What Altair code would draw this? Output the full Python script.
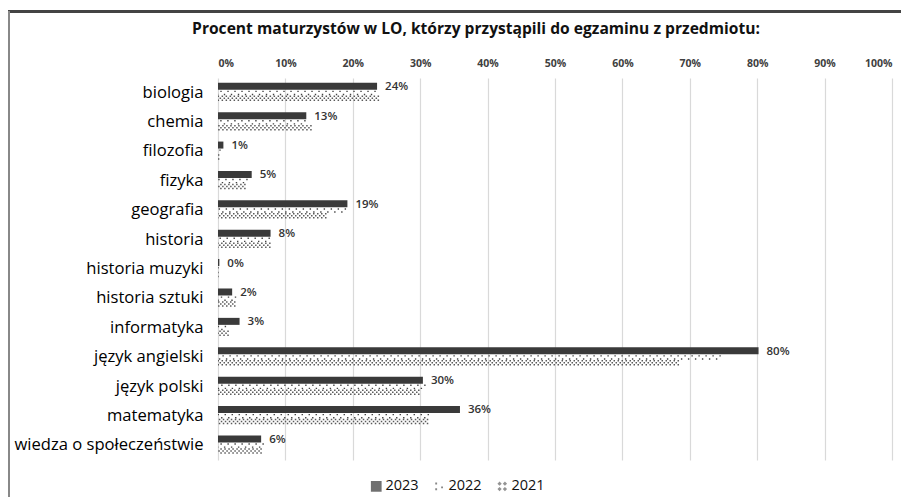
import altair as alt
import pandas as pd

categories = ["biologia", "chemia", "filozofia", "fizyka", "geografia", "historia",
              "historia muzyki", "historia sztuki", "informatyka", "język angielski",
              "język polski", "matematyka", "wiedza o społeczeństwie"]
years = ["2023", "2022", "2021"]
v2023 = [23.6, 13.1, 0.8, 5.0, 19.2, 7.8, 0.2, 2.1, 3.2, 80.2, 30.4, 35.9, 6.4]
v2022 = [23.4, 13.0, 0.4, 4.4, 19.0, 7.7, 0.1, 2.7, 1.2, 74.6, 30.8, 31.3, 6.8]
v2021 = [23.9, 13.9, 0.2, 4.1, 16.1, 7.8, 0.1, 2.6, 1.6, 68.4, 29.9, 31.2, 6.5]
x_ticks = [0, 0.1, 0.2, 0.3, 0.4, 0.5, 0.6, 0.7, 0.8, 0.9, 1.0]
title_text = "Procent maturzystów w LO, którzy przystąpili do egzaminu z przedmiotu:"

rows = []
for yr, vals in zip(years, [v2023, v2022, v2021]):
    for c, v in zip(categories, vals):
        rows.append({"category": c, "year": yr, "value": v / 100})
df = pd.DataFrame(rows)

FONT = "Open Sans"

x_enc = alt.X("value:Q", scale=alt.Scale(domain=[0, 1]),
              axis=alt.Axis(orient="top", values=x_ticks, format=".0%", title=None,
                            ticks=False, domain=False, grid=True, gridColor="#d9d9d9",
                            gridWidth=1.2, labelFontSize=10.5, labelFontWeight="bold",
                            labelColor="#404040", labelPadding=10, labelFont=FONT))
y_enc = alt.Y("category:N", sort=categories,
              scale=alt.Scale(paddingInner=0, paddingOuter=0),
              axis=alt.Axis(title=None, ticks=False, domain=False, grid=False,
                            labelFontSize=16.6, labelColor="#000", labelPadding=15,
                            labelFont=FONT, labelLimit=400))

base = alt.Chart(df).encode(x=x_enc, y=y_enc)

bars23 = base.transform_filter(alt.datum.year == "2023").mark_rule(
    strokeWidth=7, color="#3a3a3a", yOffset=-6.4, strokeCap="butt"
).encode(x2=alt.datum(0))

dots22a = base.transform_filter(alt.datum.year == "2022").mark_rule(
    strokeWidth=1.4, color="#444", yOffset=-1.3, strokeDash=[1.4, 5.6], strokeCap="butt"
).encode(x2=alt.datum(0))
dots22b = base.transform_filter(alt.datum.year == "2022").mark_rule(
    strokeWidth=1.4, color="#444", yOffset=1.8, strokeDash=[1.4, 5.6],
    strokeDashOffset=3.5, strokeCap="butt"
).encode(x2=alt.datum(0))

h21 = base.transform_filter(alt.datum.year == "2021")
hatch21a = h21.mark_rule(strokeWidth=1.5, color="#5a5a5a", yOffset=3.6,
                         strokeDash=[1.5, 2.5], strokeCap="butt").encode(x2=alt.datum(0))
hatch21b = h21.mark_rule(strokeWidth=1.5, color="#5a5a5a", yOffset=5.6,
                         strokeDash=[1.5, 2.5], strokeDashOffset=2, strokeCap="butt"
                         ).encode(x2=alt.datum(0))
hatch21c = h21.mark_rule(strokeWidth=1.5, color="#5a5a5a", yOffset=7.6,
                         strokeDash=[1.5, 2.5], strokeCap="butt").encode(x2=alt.datum(0))

labels = base.transform_filter(alt.datum.year == "2023").mark_text(
    align="left", baseline="middle", dx=8, dy=-5.5, fontSize=11.5, fontWeight=600,
    color="#333", font=FONT
).encode(text=alt.Text("value:Q", format=".0%"))

shape_paths = [
    "square",
    "M-0.75,-0.7h0.35v0.35h-0.35Z M-0.75,0.35h0.35v0.35h-0.35Z M0.35,0.0h0.35v0.35h-0.35Z",
    "M-0.5,-0.9L-0.1,-0.5L-0.5,-0.1L-0.9,-0.5Z M0.5,-0.9L0.9,-0.5L0.5,-0.1L0.1,-0.5Z "
    "M-0.5,0.1L-0.1,0.5L-0.5,0.9L-0.9,0.5Z M0.5,0.1L0.9,0.5L0.5,0.9L0.1,0.5Z",
]
leg = dict(title=None, orient="none", direction="horizontal", legendX=151, legendY=401,
           labelFontSize=14.5, labelFont=FONT, labelColor="#111", symbolSize=115,
           labelOffset=2, columnPadding=13, symbolStrokeWidth=0)
legend_layer = base.transform_filter("false").mark_point(filled=True).encode(
    shape=alt.Shape("year:N", scale=alt.Scale(domain=years, range=shape_paths),
                    legend=alt.Legend(**leg)),
    color=alt.Color("year:N", scale=alt.Scale(domain=years, range=["#333", "#555", "#666"]),
                    legend=alt.Legend(**leg)),
)

border_top = alt.Chart(df).mark_rule(color="#444", strokeWidth=1.5).encode(
    x=alt.value(-210), x2=alt.value(690), y=alt.value(-66.5))
border_left = alt.Chart(df).mark_rule(color="#888", strokeWidth=2).encode(
    x=alt.value(-209), y=alt.value(-67), y2=alt.value(420))

chart = alt.layer(border_top, border_left, bars23, dots22a, dots22b,
                  hatch21a, hatch21b, hatch21c, labels, legend_layer).properties(
    width=674, height=382,
    title=alt.TitleParams(title_text, fontSize=15.6, fontWeight="bold", font=FONT,
                          color="#111", anchor="middle", dx=-79, offset=-28),
    autosize=alt.AutoSizeParams(type="none"),
    padding={"left": 210, "top": 70, "right": 9, "bottom": 37},
).configure_view(stroke=None)

chart.save("out.html", embed_options={"renderer": "svg", "actions": False})
